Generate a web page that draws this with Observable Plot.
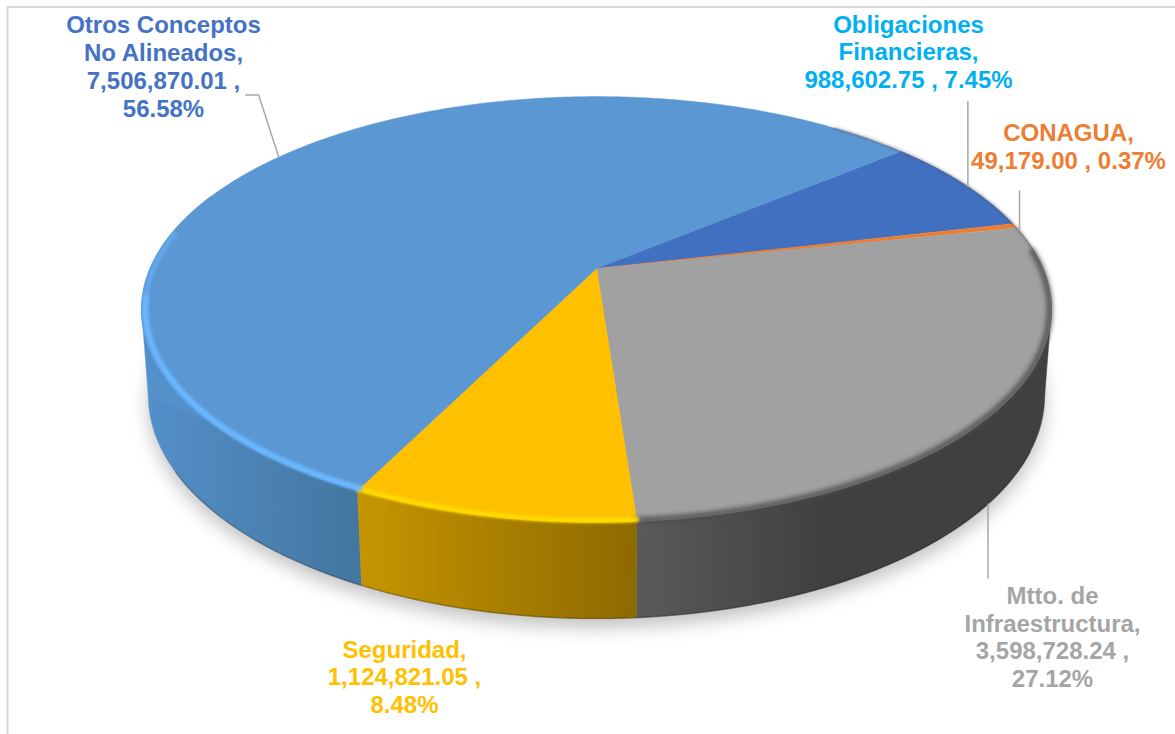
<!DOCTYPE html>
<html>
<head>
<meta charset="utf-8">
<script src="https://cdn.jsdelivr.net/npm/d3@7"></script>
<script src="https://cdn.jsdelivr.net/npm/@observablehq/plot@0.6"></script>
<style>
html,body{margin:0;padding:0;background:#fff;overflow:hidden}
.soft1{filter:blur(1.8px)}
.soft2{filter:blur(2.6px)}
.shade{filter:blur(9px)}
</style>
</head>
<body>
<div id="chart"></div>
<script>
// ---- chart data ----
const categories = ["Obligaciones Financieras", "CONAGUA", "Mtto. de Infraestructura", "Seguridad", "Otros Conceptos No Alineados"];
const amounts = [988602.75, 49179.00, 3598728.24, 1124821.05, 7506870.01];
const labelTexts = [
  "Obligaciones\nFinancieras,\n988,602.75 , 7.45%",
  "CONAGUA,\n49,179.00 , 0.37%",
  "Mtto. de\nInfraestructura,\n3,598,728.24 ,\n27.12%",
  "Seguridad,\n1,124,821.05 ,\n8.48%",
  "Otros Conceptos\nNo Alineados,\n7,506,870.01 ,\n56.58%"
];

// ---- styles ----
const topColors = ["#4170c0", "#ed7d31", "#a1a1a1", "#ffc000", "#5b97d3"];
const labelColors = ["#00b0f0", "#ed7d31", "#a5a5a5", "#ffc000", "#4472c4"];
const sideStops = [
  ["#2e4f88", "#2e4f88"],
  ["#a85820", "#a85820"],
  ["#5a5a5a", "#404040"],
  ["#c69500", "#8d6a00"],
  ["#5490ca", "#43769f"]
];
const sideStopEnd = ["100%", "100%", "45%", "100%", "100%"];

// ---- layout ----
const startAngle = 50;     // degrees clockwise from the top
const topDisc = {cx: 596, cy: 268, rx: 446.5, ry: 205, k: 0.1925};
const baseDisc = {cx: 596, cy: 352.6, rx: 440, ry: 215, k: 0.19};
const labelX = [908, 1068, 1052, 404, 163];
const labelY = [51, 145.5, 636, 676, 65.5];
const leaderNudge = [0.9, 1.6, 1.3, 0, -0.8];   // degrees from the slice's middle
const hasSide = [false, false, true, true, true];
const otherSideEnd = 292;

// ---- geometry from the values ----
const total = d3.sum(amounts);
let acc = startAngle;
const slices = categories.map((name, i) => {
  const a0 = acc;
  const a1 = acc + amounts[i] / total * 360;
  acc = a1;
  return {name, i, a0, a1, mid: (a0 + a1) / 2};
});
function project(disc, deg, r = 1) {
  const t = deg * Math.PI / 180;
  const u = r * Math.sin(t), v = -r * Math.cos(t);
  const w = 1 - disc.k * v;
  return {x: disc.cx + disc.rx * u / w, y: disc.cy + disc.ry * v / w};
}
function arc(disc, a0, a1, r = 1) {
  const n = Math.max(2, Math.ceil(Math.abs(a1 - a0) * 2));
  return d3.range(n + 1).map(k => project(disc, a0 + (a1 - a0) * k / n, r));
}
const wedge = s => [{x: topDisc.cx, y: topDisc.cy}, ...arc(topDisc, s.a0, s.a1)];
const [sObl, sCon, sMtt, sSeg, sOtr] = slices;
function sideWall(s) {
  const a1 = s === sOtr ? otherSideEnd : s.a1;
  return [...arc(topDisc, s.a0, a1), ...arc(baseDisc, a1, s.a0)];
}
// patches along the silhouette, where rim and base cross in the picture
const tangentRight = 101, tangentLeft = 259;
const silhouettePatch = deg => [project(topDisc, deg), project(baseDisc, deg), project(topDisc, deg + (deg < 180 ? 30 : -30))];

// ---- gradient definitions ----
function gradients() {
  const defs = d3.create("svg:defs");
  sideStops.forEach((stops, i) => {
    const g = defs.append("linearGradient").attr("id", "side" + i);
    g.append("stop").attr("offset", "0%").attr("stop-color", stops[0]);
    g.append("stop").attr("offset", sideStopEnd[i]).attr("stop-color", stops[1]);
  });
  return defs.node();
}

const xy = {x: "x", y: "y"};

// leaders
const leaderStart = (disc, s) => project(disc, s.mid + leaderNudge[s.i]);
const rimOtr = leaderStart(topDisc, sOtr);
const rimObl = leaderStart(topDisc, sObl);
const rimCon = leaderStart(topDisc, sCon);
const baseMtt = leaderStart(baseDisc, sMtt);
const leaders = [
  [rimOtr, {x: rimOtr.x - 20, y: rimOtr.y - 62}, {x: rimOtr.x - 33, y: rimOtr.y - 62}],
  [rimObl, {x: rimObl.x, y: rimObl.y - 85}],
  [rimCon, {x: rimCon.x, y: rimCon.y - 40}],
  [baseMtt, {x: baseMtt.x, y: baseMtt.y + 74}]
];

const labels = slices.map(s => ({text: labelTexts[s.i], x: labelX[s.i], y: labelY[s.i], color: labelColors[s.i]}));

const chart = Plot.plot({
  width: 1175,
  height: 734,
  margin: 0,
  x: {domain: [0, 1175], range: [0, 1175], axis: null},
  y: {domain: [0, 734], range: [0, 734], axis: null},
  color: {type: "identity"},
  style: {background: "#fff"},
  marks: [
    gradients,
    // chart frame
    Plot.ruleY([6.5], {x1: 7, x2: 1175, stroke: "#d9d9d9", strokeWidth: 2}),
    Plot.ruleX([7], {y1: 6, y2: 734, stroke: "#d9d9d9", strokeWidth: 2}),
    // drop shadow
    Plot.line(arc(baseDisc, 0, 360), {...xy, fill: "#9a9a9a", stroke: "none", dy: 9, className: "shade", fillOpacity: 0.6}),
    // side walls
    ...slices.filter(s => hasSide[s.i]).map(s =>
      Plot.line(sideWall(s), {...xy, fill: `url(#side${s.i})`, stroke: `url(#side${s.i})`, strokeWidth: 0.5})),
    Plot.line(silhouettePatch(tangentRight), {...xy, fill: sideStops[2][1], stroke: sideStops[2][1], strokeWidth: 0.5}),
    Plot.line(silhouettePatch(tangentLeft), {...xy, fill: sideStops[4][0], stroke: sideStops[4][0], strokeWidth: 0.5}),
    // dark base edge
    Plot.line(arc(baseDisc, 115, 240), {...xy, stroke: "#000", strokeOpacity: 0.25, strokeWidth: 1.5}),
    // top face
    ...slices.map(s => Plot.line(wedge(s), {...xy, fill: topColors[s.i], stroke: topColors[s.i], strokeWidth: 0.5})),
    // bevel
    Plot.line(arc(topDisc, 85, sMtt.a1, 0.996), {...xy, stroke: "#4a4a4a", strokeWidth: 5, className: "soft2"}),
    Plot.line(arc(topDisc, sSeg.a0, sSeg.a1, 0.994), {...xy, stroke: "#ffdc00", strokeWidth: 5, className: "soft1"}),
    Plot.line(arc(topDisc, sOtr.a0, 262, 0.992), {...xy, stroke: "#6bb8ff", strokeWidth: 6, className: "soft1"}),
    Plot.line(arc(topDisc, 262, 280, 0.992), {...xy, stroke: "#6bb8ff", strokeOpacity: 0.55, strokeWidth: 5, className: "soft1"}),
    Plot.line(arc(topDisc, 38, 85), {...xy, stroke: "#555", strokeOpacity: 0.7, strokeWidth: 1.5, className: "soft1"}),
    // leader lines
    ...leaders.map(pts => Plot.line(pts, {...xy, stroke: "#a6a6a6", strokeWidth: 1.5})),
    // data labels
    Plot.text(labels, {
      ...xy, text: "text", fill: "color", textAnchor: "middle", lineAnchor: "middle",
      fontFamily: "Liberation Sans, Arial, sans-serif", fontWeight: "bold", fontSize: 24, lineHeight: 1.16
    })
  ]
});
document.getElementById("chart").append(chart);
</script>
</body>
</html>
